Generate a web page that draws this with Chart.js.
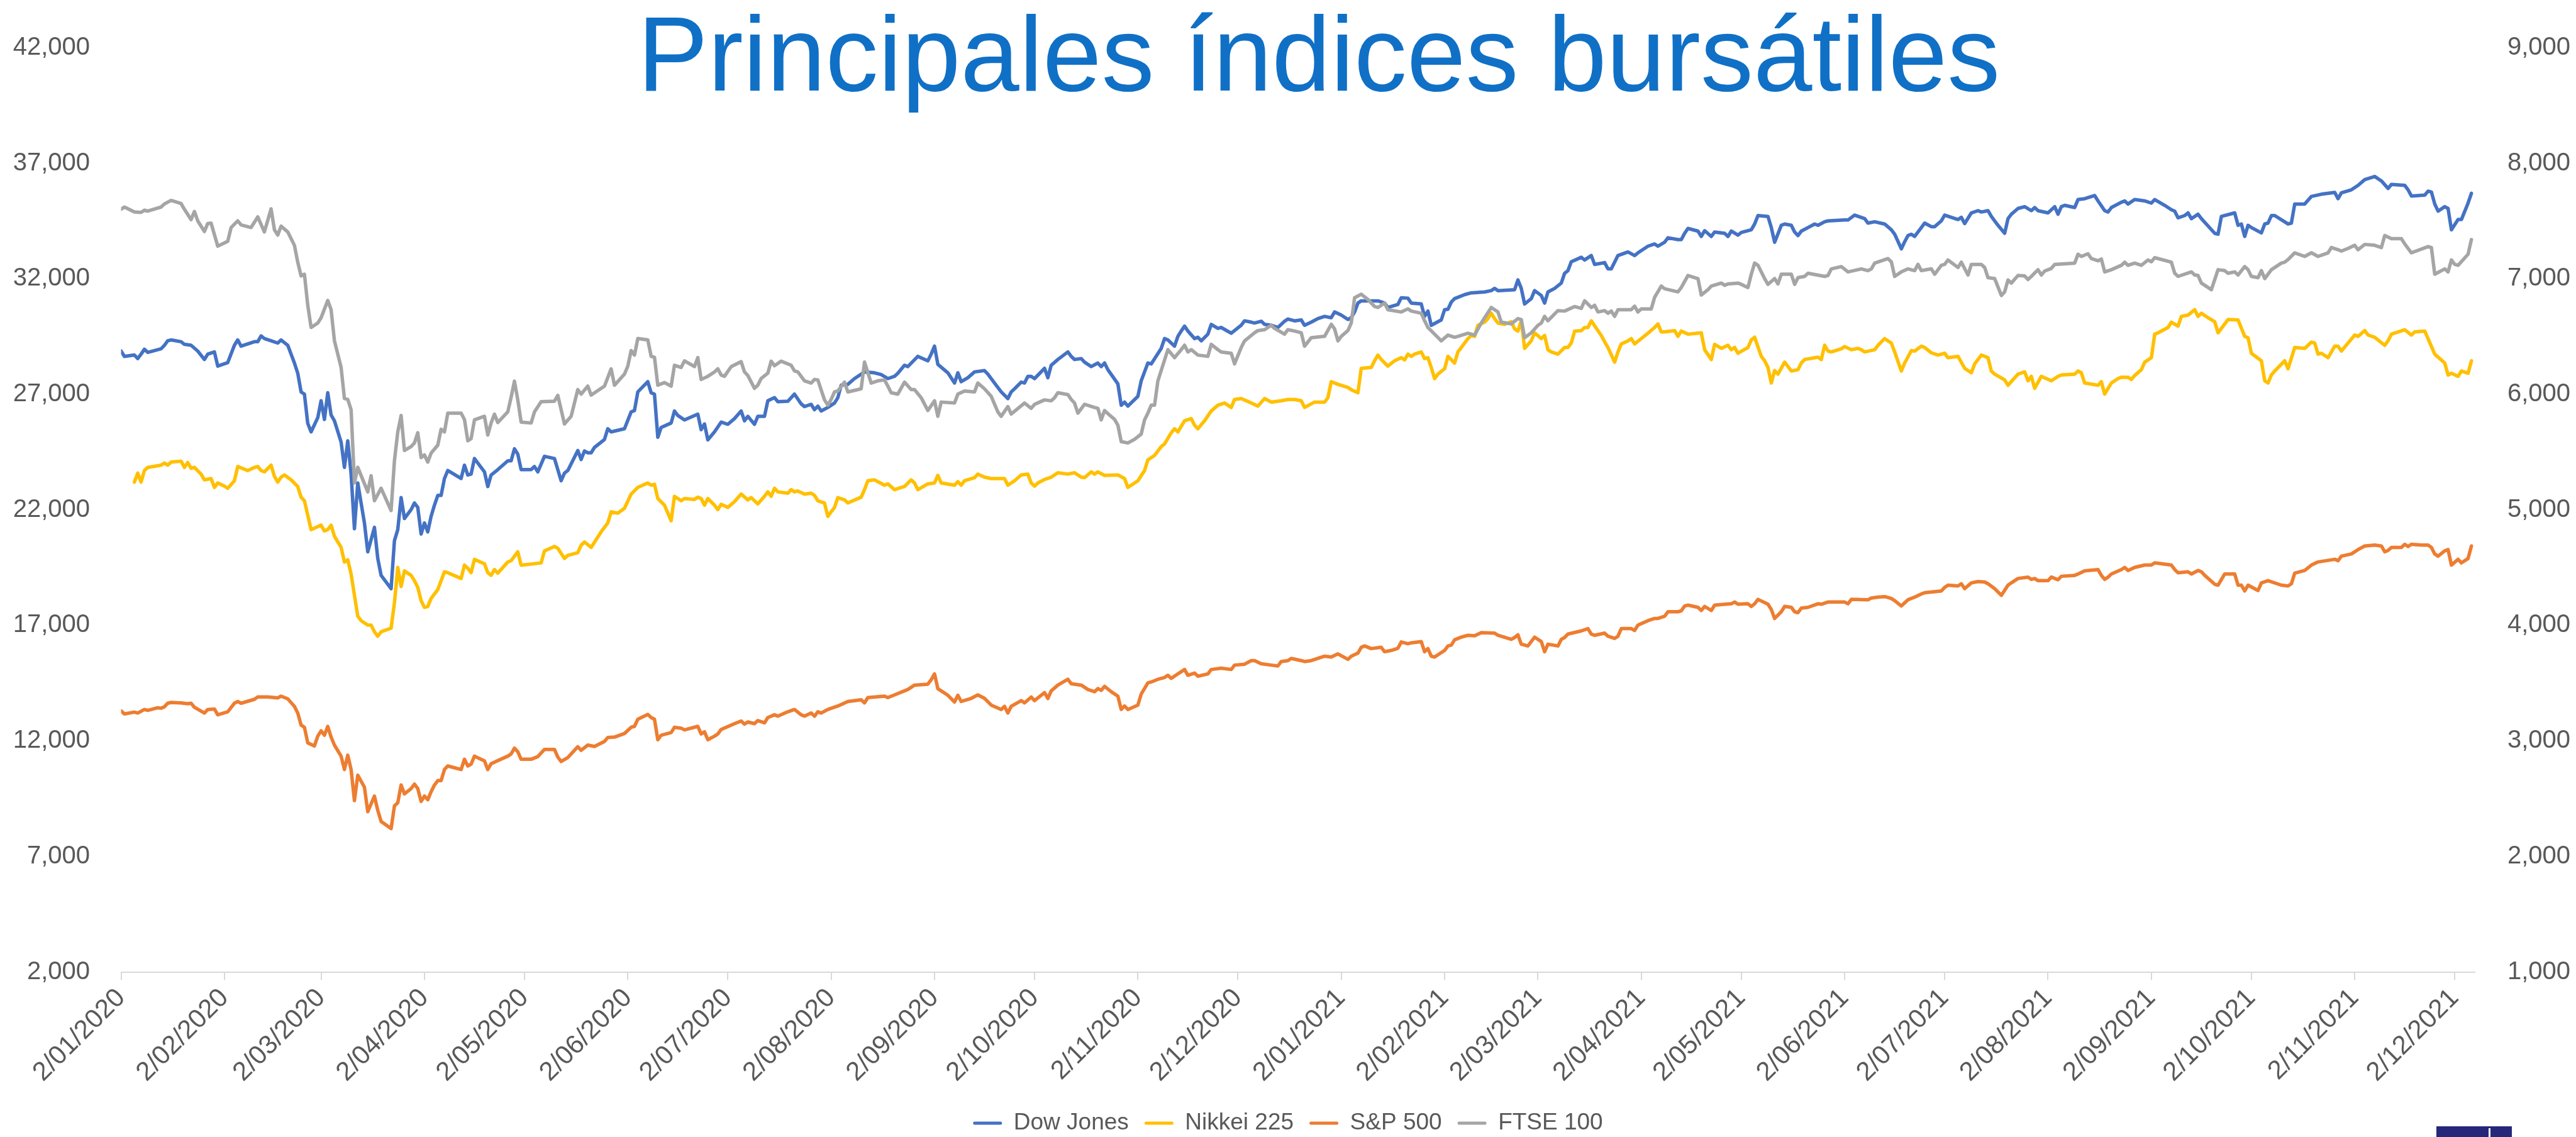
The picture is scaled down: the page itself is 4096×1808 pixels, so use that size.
<!DOCTYPE html>
<html>
<head>
<meta charset="utf-8">
<script src="https://cdn.jsdelivr.net/npm/chart.js"></script>
<style>
html,body{margin:0;padding:0;background:#ffffff;}
#wrap{position:relative;width:4096px;height:1808px;overflow:hidden;}
canvas{display:block;}
#logo{position:absolute;left:3874px;top:1791px;width:120px;height:17px;background:#25287A;}
#logo i{position:absolute;left:83px;top:3px;width:3px;height:14px;background:#ffffff;}
</style>
</head>
<body>
<div id="wrap"><canvas id="chart" width="4096" height="1808"></canvas><div id="logo"><i></i></div></div>
<script>
// ---------------- DATA ----------------
const chartTitle = 'Principales índices bursátiles';
const seriesNames = ['Dow Jones', 'Nikkei 225', 'S&P 500', 'FTSE 100'];
// x values: days since 2 Jan 2020
const xTickDays = [0,31,60,91,121,152,182,213,244,274,305,335,366,397,425,456,486,517,547,578,609,639,670,700];
const xTickLabels = ['2/01/2020','2/02/2020','2/03/2020','2/04/2020','2/05/2020','2/06/2020','2/07/2020','2/08/2020','2/09/2020','2/10/2020','2/11/2020','2/12/2020',
                     '2/01/2021','2/02/2021','2/03/2021','2/04/2021','2/05/2021','2/06/2021','2/07/2021','2/08/2021','2/09/2021','2/10/2021','2/11/2021','2/12/2021'];
const leftAxis = {min: 2000, max: 42000, step: 5000};
const rightAxis = {min: 1000, max: 9000, step: 1000};

const dowDays = [
0,1,4,5,6,7,8,12,13,14, 15,18,19,21,23,25,26,28,29,32, 34,35,36,40,41,42,43,45,47,48,
50,51,52,53,54,55,56,57,59,60, 61,62,63,64,66,67,68,69,70,71, 73,74,76,77,78,81,82,83,84,85,
87,88,89,90,91,92,93,94,95,96, 97,98,102,103,104,105,106,109,110,111, 113,116,117,118,119,120,123,124,125,127,
130,131,132,133,134,137,138,139,140,141, 142,145,146,147,151,153,154,155,158,159, 160,161,162,165,166,167,169,173,174,175,
176,178,180,182,184,186,187,188,190,191, 193,194,196,197,200,202,204,205,207,208, 209,210,212,214,215,216,218,220,222,223,
226,228,230,232,233,235,236,239,242,243, 244,245,248,250,251,252,254,256,259,260, 262,264,266,267,268,270,271,272,273,274,
277,278,279,281,284,285,286,288,289,291, 293,294,295,296,299,300,301,302,305,306, 307,308,309,312,313,314,316,317,318,319,
320,322,323,324,326,327,329,330,333,336, 337,339,340,342,343,345,347,349,350,352, 354,355,357,359,361,363,364,366,368,369,
370,371,372,374,376,377,379,380,383,384, 386,387,390,391,392,393,396,397,398,399, 400,403,405,409,411,412,413,418,419,420,
421,423,424,426,427,428,430,432,433,434, 435,438,439,441,442,445,446,447,449,452, 454,455,458,460,461,463,464,467,468,469,
470,473,474,475,477,478,481,482,483,485, 486,489,490,491,494,495,496,498,499,501, 502,503,504,506,508,509,511,512,517,518,
520,523,524,526,529,531,532,534,535,536, 537,538,540,541,543,544,546,547,551,552, 553,555,557,558,560,561,563,565,566,567,
569,571,573,574,575,578,580,581,582,583, 586,587,589,592,593,595,596,597,600,601, 602,604,607,609,610,613,615,616,617,619,
620,621,623,624,628,629,630,634,635,636, 637,638,639,642,643,644,645,646,650,651, 652,655,657,660,664,665,666,669,671,673,
676,678,680,681,685,686,687,691,692,693, 694,695,697,698,699,701,702,704,705];
const dowValues = [
28874,28644,28701,28548,28740,28951,28817,28971,29124,29317, 29355,29278,29163,29124,28874,28509,28740,28836,28221,28375, 29124,29355,29086,29278,29278,29528,29413,29317,29220,29355,
29124,28740,28355,27913,27106,27010,25740,25375,25990,26721, 25913,27067,26106,25856,24933,23837,24990,23548,21183,23164, 21433,20184,21241,19895,19165,18588,20665,21145,22530,21626,
22010,22298,22106,20953,21433,21049,21722,22202,22625,22625, 23356,23702,23356,23933,23510,23548,24222,23645,23010,23510, 23741,24125,24125,24644,24413,23741,23741,23875,23645,24318,
24222,23741,23260,23587,23702,24567,24183,24548,24471,24471, 24702,25048,25510,25375,25510,26240,26298,27106,27548,27067, 27010,25144,25567,25760,26279,26087,25894,26144,25471,25721,
25029,25375,25798,25702,25952,26279,25856,26048,25702,26048, 26048,26721,26856,26683,26702,27010,26587,26471,26567,26336, 26490,26279,26433,26625,26856,27394,27432,27682,27875,27971,
27932,27855,27682,27779,27913,28259,28202,28644,28452,28740, 29086,28298,27932,27490,27932,27548,27721,27971,28028,27875, 27490,27106,26817,27106,27240,27529,27490,27779,27779,27682,
28125,27721,28259,28509,28836,28644,28509,28548,28394,28202, 28355,28202,28355,28067,27452,26529,26663,26490,26913,27586, 27971,28355,28317,28990,29413,29355,29086,29509,29740,29951,
29740,29413,29471,29317,29605,30028,29855,29894,29644,29990, 30182,30124,30086,30163,30028,29990,29894,30163,30259,30182, 30220,29990,30124,30278,30374,30317,30567,30432,30240,30317,
30567,30951,31047,31047,31047,31047,30951,30759,30893,31182, 31163,30951,30912,30374,30605,29990,30221,30663,30682,30990, 31143,31316,31393,31432,31489,31586,31489,31528,31951,31586,
30912,31143,31489,31278,30951,31432,31586,31816,32239,32355, 32739,32932,32816,33008,32624,32701,32431,32431,33008,33162, 33008,33124,33412,33508,33412,33585,33777,33700,33700,33970,
34181,34066,33835,34085,33835,34027,33970,33835,34066,33893, 34008,34123,34373,34739,34700,34220,33585,34316,34373,34316, 34027,33874,34066,34220,34373,34316,34470,34508,34546,34546,
34758,34604,34412,34470,34373,34123,33931,33297,33604,33873, 33931,33835,34220,34412,34258,34258,34508,34758,34566,34662, 34393,34854,34950,34893,34950,34700,34316,33970,34604,34796,
35046,35123,34950,35085,34950,34854,35123,34796,35123,35181, 35085,35431,35469,35604,35373,34950,34893,35085,35315,35373, 35239,35431,35373,35277,35431,35181,34989,34931,34643,34739,
34854,34604,34796,34604,33970,33931,34700,34854,34316,34373, 33835,34316,34220,33989,34373,34412,34739,34739,34373,34412, 35239,35239,35566,35662,35738,35469,35719,35854,36046,36296,
36431,36238,35911,36085,36046,35854,35585,35623,35796,35758, 35239,34931,35123,35046,34123,34566,34566,35277,35700];

const nikkeiDays = [
4,5,6,7,8,12,13,14,15,18, 19,20,21,22,24,25,27,28,29,31, 32,34,35,38,40,41,42,43,45,46,
47,48,49,51,53,54,55,57,60,61, 62,63,64,66,67,68,69,71,72,74, 75,76,77,78,81,82,83,84,85,87,
88,89,90,91,92,93,95,97,98,102, 103,104,105,106,109,110,111,112,113,116, 117,119,120,126,127,130,131,133,134,137,
138,139,141,144,146,147,149,151,153,155, 158,159,160,161,163,165,166,168,169,172, 173,174,175,176,178,179,180,182,184,186,
188,189,191,193,194,195,196,197,200,201, 202,203,205,207,208,209,211,212,213,214, 215,217,218,222,223,224,226,229,230,232,
234,235,237,238,239,242,244,245,246,250, 251,252,253,256,257,259,261,265,266,268, 270,272,273,274,275,277,279,281,284,286,
288,289,291,292,293,295,299,301,302,305, 307,308,310,312,313,315,316,317,319,321, 322,323,325,327,329,331,333,334,336,339,
341,343,345,348,350,352,354,355,358,361, 362,363,365,368,369,371,372,375,376,377, 378,380,382,384,385,386,387,388,390,391,
392,393,394,395,397,398,400,401,402,404, 405,406,407,409,410,411,412,413,415,417, 418,419,420,421,423,424,426,427,428,429,
431,433,434,435,436,438,439,440,441,443, 444,445,446,448,449,450,452,453,454,456, 458,460,461,462,463,466,467,468,470,474,
475,477,478,480,482,483,484,485,488,489, 490,492,493,494,495,496,497,499,500,501, 503,504,505,509,510,511,512,513,516,517,
519,521,522,523,526,527,529,531,532,534, 535,537,538,540,541,543,545,547,548,551, 553,555,556,558,560,561,562,565,566,569,
571,572,573,574,576,579,581,582,586,587, 588,589,593,594,595,597,599,600,602,603, 604,606,607,609,610,611,614,615,617,618,
620,622,623,624,626,628,629,632,635,637, 638,639,642,643,644,645,646,649,650,652, 655,657,658,659,660,662,664,665,666,670,
671,673,674,676,679,680,681,685,687,688, 691,694,697,698,699,701,702,704,705];
const nikkeiValues = [
23203,23587,23203,23703,23837,23933,24029,23933,24068,24106, 23837,24048,23799,23837,23548,23298,23356,22972,23164,23029, 22933,23260,23875,23702,23837,23875,23702,23645,23933,23452,
23203,23414,23510,23298,23010,22548,22394,21145,21337,21087, 21145,21337,20856,20376,19741,19837,19222,17395,17204,17011, 17011,16723,16530,16723,16877,17973,19511,18684,19357,19165,
18934,18646,18069,17781,17819,18165,18550,19319,19280,19030, 19607,19472,19280,19857,19665,19280,19165,19415,19261,19742, 19800,20184,19607,19703,20223,20415,20338,19896,20030,20145,
20472,20607,20376,21049,21434,21915,21857,22068,22683,22972, 23164,23068,23106,22491,22202,21529,22587,22394,22491,22452, 22548,22491,22203,22491,22203,22010,22241,22106,22356,22683,
22433,22529,22260,22587,22779,22587,22933,22779,22721,22875, 22779,22818,22683,22721,22625,22394,22298,21721,21914,22106, 22529,22433,22298,22548,22875,23260,23298,23068,23125,22875,
22972,23010,23298,23164,22875,23125,23164,23491,23164,23068, 23221,23068,23260,23394,23548,23414,23356,23356,23068,23260, 23510,23548,23164,23029,23164,23318,23414,23606,23548,23606,
23414,23394,23645,23548,23645,23491,23510,23356,22972,23260, 23702,24164,24356,24740,24856,25336,25510,25375,25856,25952, 25664,25510,25856,26279,26529,26625,26433,26779,26817,26625,
26490,26817,26663,26721,26779,26779,26721,26433,26663,26663, 26856,27548,27433,27298,27202,27067,28125,28163,28452,28702, 28509,28221,28452,28586,28490,28740,28644,28740,28836,28548,
28586,28163,27682,27875,28106,28644,28355,28836,29029,29413, 29548,29509,29990,30124,30278,30509,30278,30086,30028,30144, 29836,29740,30182,28990,29317,29663,29413,29548,28932,28836,
28740,29029,29029,29221,29740,29759,29894,29894,30182,29759, 29548,29279,29029,28394,28836,29182,29317,29413,29182,29413, 29644,29894,30047,29701,29701,29759,29509,29740,29605,29663,
28932,28509,29163,28990,29124,28932,29029,28778,29029,29356, 29471,28644,28452,28163,27490,28029,27875,28394,28202,28010, 28067,28356,28509,28606,28509,29124,28874,28836,28971,29067,
28932,28990,28932,28836,28932,29124,29413,29221,28836,28010, 28356,28894,28875,29086,29029,28798,28702,28778,28586,28644, 28125,27932,28317,28702,28586,28010,27875,27625,27394,27875,
27971,27586,27779,27260,27779,27586,27779,27836,27875,28010, 27933,27490,27394,27548,27010,27490,27682,27740,27740,27644, 27817,28067,28394,28586,29605,29663,29894,30124,29951,30374,
30432,30663,30374,30509,30317,30144,29663,30240,30221,29509, 29451,28778,28452,27586,27490,27836,28010,28452,28106,29029, 28990,29259,29221,28740,28778,28586,29086,29086,28874,29567,
29509,29759,29567,29471,29124,29317,29605,29797,29567,29701, 29740,28740,28356,27836,27913,27779,28010,27913,28452];

const spDays = [
0,1,4,5,7,8,11,12,13,14, 15,18,20,21,22,25,26,28,29,32, 34,35,36,40,41,44,47,48,50,52,
53,54,55,56,58,59,60,61,62,63, 64,66,67,68,69,70,71,73,74,76, 77,78,81,82,83,84,85,87,88,89,
90,91,92,93,94,95,96,97,98,102, 103,104,105,106,109,110,111,113,116,117, 118,119,120,123,125,127,130,131,132,134,
137,138,140,142,145,146,148,151,153,154, 155,158,159,160,161,162,165,166,168,169, 173,174,175,176,178,179,180,184,186,187,
188,190,191,193,194,196,197,200,202,204, 205,207,208,209,210,212,215,218,222,223, 224,229,230,232,236,238,242,243,244,245,
248,250,251,252,255,257,259,261,264,265, 266,267,270,271,273,274,277,278,279,281, 284,285,288,290,292,293,294,295,297,299,
300,301,302,305,306,308,309,311,313,314, 315,317,318,319,320,322,323,326,327,330, 333,334,337,339,340,342,345,347,348,350,
351,354,355,357,359,361,363,365,368,369, 371,372,373,375,378,379,381,383,384,386, 387,390,391,392,393,394,397,398,399,400,
402,404,406,408,412,413,417,418,419,420, 422,424,426,427,428,431,432,433,434,438, 440,441,442,445,446,448,449,450,453,454,
455,458,460,461,463,464,467,468,469,470, 473,474,475,477,478,483,484,485,488,489, 490,491,494,495,496,498,499,501,502,503,
504,506,509,510,512,517,518,519,524,525, 527,529,531,532,534,535,536,538,540,541, 546,547,548,551,552,553,555,557,559,560,
562,564,566,567,569,572,573,574,575,578, 579,581,582,586,587,589,593,594,595,596, 597,600,601,602,604,607,609,610,615,616,
617,620,621,623,624,625,628,629,631,634, 635,636,637,638,641,642,644,648,650,651, 652,655,657,659,664,665,666,669,671,673,
676,678,679,680,681,684,685,686,687,690, 692,693,694,695,697,698,699,701,702,704, 705];
const spValues = [
3260,3233,3249,3241,3272,3264,3287,3283,3295,3326, 3333,3329,3322,3326,3291,3241,3272,3276,3226,3252, 3326,3341,3326,3360,3380,3380,3372,3387,3364,3299,
3241,3137,3118,2983,2956,3041,3087,3049,3126,3033, 2964,2868,2752,2876,2752,2483,2703,2599,2387,2522, 2399,2303,2241,2437,2464,2618,2541,2587,2626,2587,
2476,2522,2491,2560,2618,2656,2656,2752,2783,2752, 2841,2783,2799,2868,2826,2752,2802,2829,2868,2887, 2937,2906,2841,2841,2864,2926,2926,2860,2822,2856,
2949,2918,2964,2952,2995,3029,3033,3064,3118,3126, 3187,3229,3202,3187,3010,3049,3072,3118,3110,3095, 3126,3060,3079,3010,3041,3060,3099,3149,3172,3145,
3164,3149,3176,3156,3202,3226,3214,3252,3272,3226, 3214,3241,3214,3252,3241,3272,3302,3341,3356,3329, 3375,3387,3375,3398,3445,3483,3491,3529,3580,3452,
3395,3337,3395,3341,3368,3398,3368,3310,3272,3299, 3241,3299,3349,3329,3379,3349,3418,3368,3433,3483, 3533,3495,3483,3445,3426,3453,3437,3472,3426,3387,
3272,3302,3272,3310,3406,3502,3510,3533,3549,3568, 3541,3580,3599,3618,3568,3587,3560,3580,3618,3629, 3618,3656,3664,3695,3695,3668,3656,3649,3687,3695,
3714,3695,3687,3695,3714,3733,3726,3753,3706,3733, 3760,3810,3822,3799,3810,3772,3783,3802,3856,3841, 3849,3860,3772,3799,3733,3726,3783,3822,3829,3875,
3898,3914,3910,3937,3933,3914,3879,3895,3918,3837, 3822,3898,3860,3772,3837,3822,3879,3895,3925,3952, 3972,3925,3914,3933,3906,3887,3906,3972,3972,3956,
4002,4041,4060,4060,4079,4118,4118,4126,4168,4175, 4156,4129,4164,4129,4175,4187,4202,4183,4187,4164, 4187,4225,4183,4137,4060,4118,4164,4156,4118,4110,
4149,4156,4187,4183,4202,4202,4187,4225,4221,4237, 4245,4249,4233,4214,4168,4195,4222,4245,4272,4283, 4298,4329,4348,4341,4360,4318,4368,4379,4375,4360,
4318,4260,4348,4368,4406,4418,4398,4406,4387,4387, 4418,4395,4425,4433,4445,4472,4483,4433,4398,4418, 4445,4483,4502,4475,4502,4522,4522,4541,4522,4483,
4456,4464,4445,4475,4464,4433,4356,4348,4445,4445, 4348,4348,4298,4348,4302,4368,4387,4348,4341,4360, 4452,4475,4522,4549,4572,4560,4599,4618,4656,4687,
4695,4687,4637,4649,4675,4675,4702,4683,4702,4695, 4695,4675,4618,4599,4645,4656,4522,4572,4541,4579, 4687];

const ftseDays = [
0,1,4,6,7,8,11,12,13,15, 18,19,21,22,23,25,26,27,29,32, 33,35,36,39,41,43,45,46,47,48,
50,52,53,54,55,56,57,59,60,62, 63,64,66,67,68,69,70,71,74,75, 76,78,81,82,83,84,85,87,88,89,
90,91,92,93,95,96,97,98,102,103, 104,105,106,109,110,111,112,113,116,117, 118,119,120,123,124,126,130,131,133,135,
137,138,140,141,145,147,148,151,152,153, 154,155,158,159,160,161,163,165,166,168, 169,172,173,174,176,178,179,180,181,183,
186,187,188,190,191,192,194,195,196,198, 201,202,203,205,207,208,209,211,212,213, 214,215,217,218,222,223,225,227,229,230,
231,233,235,237,238,240,242,244,245,246, 250,251,253,256,257,259,261,263,264,266, 267,271,273,274,277,279,280,281,284,285,
286,287,289,292,293,294,295,296,298,299, 300,302,304,306,307,308,309,310,311,314, 316,318,319,320,321,323,326,327,329,330,
333,334,336,337,340,341,343,345,346,349, 350,352,354,355,357,361,363,364,365,366, 368,369,370,372,374,376,377,379,380,384,
386,387,390,391,392,394,396,398,400,401, 404,406,408,409,411,413,414,417,419,420, 421,423,425,426,427,428,431,433,436,438,
439,441,442,443,445,446,447,448,449,453, 454,455,456,459,460,462,463,467,468,470, 473,474,476,477,480,481,482,485,486,488,
489,490,491,493,494,496,497,498,501,502, 503,505,506,511,512,513,516,518,522,524, 525,526,530,531,532,534,536,538,539,540,
543,544,546,547,548,551,552,554,555,558, 559,560,562,564,565,566,567,569,571,572, 573,575,576,577,579,580,586,587,588,590,
591,593,594,595,597,600,601,602,604,606, 608,609,610,615,616,617,621,622,623,624, 627,629,631,632,634,635,637,638,639,641,
642,643,645,648,649,650,652,655,657,659, 662,663,665,666,668,670,671,673,676,678, 679,681,684,685,687,692,693,694,697,698,
699,700,701,704,705];
const ftseValues = [
7602,7621,7579,7575,7594,7586,7613,7621,7648,7679, 7652,7602,7513,7583,7502,7410,7479,7483,7283,7325, 7444,7502,7467,7444,7536,7406,7606,7425,7379,7456,
7406,7290,7144,7025,7040,6771,6579,6617,6663,6813, 6733,6464,6233,5964,5956,5867,5233,5368,5156,5295, 5079,5187,4994,5425,5675,5817,5514,5548,5579,5668,
5452,5475,5414,5491,5560,5698,5675,5837,5837,5783, 5598,5617,5779,5810,5648,5752,5829,5756,5848,5975, 6114,5952,5760,5752,5848,5937,5941,5991,5744,5810,
6041,6002,6071,5994,6071,6221,6079,6175,6244,6379, 6340,6483,6471,6329,6321,6079,6102,6071,6252,6233, 6290,6240,6318,6129,6156,6194,6221,6167,6156,6240,
6283,6194,6163,6052,6079,6137,6183,6287,6248,6287, 6252,6202,6194,6117,6098,6129,6125,5952,5906,5956, 6021,6029,6106,6021,6048,6279,6098,6117,6125,6071,
6014,6002,6106,6041,6041,5971,5860,5944,5810,5933, 5925,6002,6029,6021,6098,6048,5983,5848,5810,5894, 5829,5925,5879,5913,5952,5944,5971,6014,5998,5956,
5925,5837,5914,5887,5879,5779,5860,5833,5783,5733, 5591,5579,5610,5656,5779,5837,5906,5906,6117,6387, 6317,6387,6425,6367,6387,6340,6329,6433,6387,6367,
6356,6264,6406,6463,6533,6552,6560,6598,6571,6521, 6560,6548,6533,6417,6490,6502,6606,6567,6463,6502, 6552,6617,6836,6867,6821,6760,6752,6790,6733,6713,
6740,6721,6702,6637,6579,6521,6463,6513,6494,6502, 6529,6513,6617,6663,6752,6713,6625,6610,6656,6648, 6490,6533,6598,6617,6675,6637,6725,6721,6760,6744,
6810,6752,6771,6713,6725,6702,6721,6675,6733,6733, 6763,6713,6740,6740,6840,6937,6914,6887,6925,7029, 7002,6860,6906,6937,6963,6944,6956,6963,6952,6925,
7040,7136,7117,7002,6952,7002,6956,7040,7040,6952, 7010,7021,7048,7021,7029,7086,7106,7060,7086,7071, 7086,7136,7175,7148,7021,7060,7086,7071,7125,7071,
7086,7040,7117,7125,7163,7098,7144,7033,7125,7125, 7098,7010,7002,6856,6887,6990,6963,7029,7025,6994, 7021,7079,7033,7067,7090,7125,7136,7213,7194,7217,
7175,7156,7171,7060,7079,7117,7144,7117,7136,7117, 7163,7148,7183,7144,7048,7021,7060,7033,7029,6963, 6906,7079,7071,7048,7060,7033,7106,7079,7021,7010,
7071,7002,7079,7136,7144,7167,7225,7194,7225,7194, 7225,7271,7252,7240,7263,7290,7252,7298,7290,7271, 7375,7348,7348,7302,7225,7279,7271,7040,7086,7060,
7163,7125,7117,7213,7340];

// ---------------- STYLE / LAYOUT ----------------
const W = 4096, H = 1808;
const PLOT = {left: 192.5, right: 3935, top: 34.5, bottom: 1545.5};
const FONT = '"Liberation Sans", Arial, sans-serif';
const TEXT_COLOR = '#595959';
const COLORS = ['#4472C4', '#FFC000', '#ED7D31', '#A5A5A5'];
const LEGEND = {font: 37, pad: 25, bottomPad: -6.5};
Chart.defaults.font.family = FONT;

function toPoints(days, values) {
  return days.map((d, i) => ({x: d, y: values[i]}));
}
function fmt(v) { return Number(v).toLocaleString('en-US'); }

const titlePlugin = {
  id: 'overlayTitle',
  afterDraw(chart) {
    const ctx = chart.ctx;
    ctx.save();
    ctx.font = '168px ' + FONT;
    ctx.fillStyle = '#1070C6';
    ctx.textAlign = 'center';
    ctx.textBaseline = 'alphabetic';
    ctx.fillText(chartTitle, 2097, 144);
    ctx.restore();
  }
};

const seriesData = [
  toPoints(dowDays, dowValues),
  toPoints(nikkeiDays, nikkeiValues),
  toPoints(spDays, spValues),
  toPoints(ftseDays, ftseValues)
];
const axisFor = ['yL', 'yL', 'yR', 'yR'];

new Chart(document.getElementById('chart'), {
  type: 'line',
  data: {
    datasets: seriesNames.map((name, i) => ({
      label: name,
      data: seriesData[i],
      yAxisID: axisFor[i],
      borderColor: COLORS[i],
      backgroundColor: COLORS[i],
      borderWidth: 5.5,
      pointRadius: 0,
      tension: 0,
      fill: false,
      order: 4 - i,
      borderJoinStyle: 'round',
      borderCapStyle: 'round'
    }))
  },
  options: {
    responsive: false,
    animation: false,
    devicePixelRatio: 1,
    layout: {padding: {top: PLOT.top, left: 0, right: 0, bottom: LEGEND.bottomPad}},
    plugins: {
      title: {display: false},
      tooltip: {enabled: false},
      legend: {
        position: 'bottom',
        align: 'center',
        labels: {
          boxWidth: 46,
          boxHeight: 5,
          padding: LEGEND.pad,
          color: TEXT_COLOR,
          font: {size: LEGEND.font, family: FONT},
          generateLabels: (chart) => chart.data.datasets.map((ds, i) => ({
            text: ds.label,
            fillStyle: ds.borderColor,
            strokeStyle: ds.borderColor,
            lineWidth: 0,
            borderRadius: 2.5,
            fontColor: TEXT_COLOR,
            hidden: false,
            datasetIndex: i
          }))
        }
      }
    },
    scales: {
      x: {
        type: 'linear',
        position: 'bottom',
        min: 0,
        max: 706,
        afterBuildTicks: (s) => { s.ticks = xTickDays.map(v => ({value: v})); },
        afterFit: (s) => {
          const lg = s.chart.legend;
          const lh = lg ? lg.height : 0;
          s.height = H - LEGEND.bottomPad - lh - PLOT.bottom;
        },
        ticks: {
          autoSkip: false,
          minRotation: 45,
          maxRotation: 45,
          padding: 4,
          color: TEXT_COLOR,
          font: {size: 42, family: FONT},
          callback: (v) => { const i = xTickDays.indexOf(v); return i >= 0 ? xTickLabels[i] : ''; }
        },
        grid: {drawOnChartArea: false, drawTicks: true, tickLength: 13, color: '#D9D9D9', lineWidth: 2},
        border: {display: true, color: '#D9D9D9', width: 2}
      },
      yL: {
        type: 'linear',
        position: 'left',
        min: leftAxis.min,
        max: leftAxis.max,
        afterFit: (s) => { s.width = PLOT.left; },
        ticks: {stepSize: leftAxis.step, padding: 49.5, color: TEXT_COLOR, font: {size: 40, family: FONT}, callback: fmt},
        grid: {display: false, drawTicks: false},
        border: {display: false}
      },
      yR: {
        type: 'linear',
        position: 'right',
        min: rightAxis.min,
        max: rightAxis.max,
        afterFit: (s) => { s.width = W - PLOT.right; },
        ticks: {stepSize: rightAxis.step, padding: 52, color: TEXT_COLOR, font: {size: 40, family: FONT}, callback: fmt},
        grid: {display: false, drawTicks: false},
        border: {display: false}
      }
    }
  },
  plugins: [titlePlugin]
});
</script>
</body>
</html>
